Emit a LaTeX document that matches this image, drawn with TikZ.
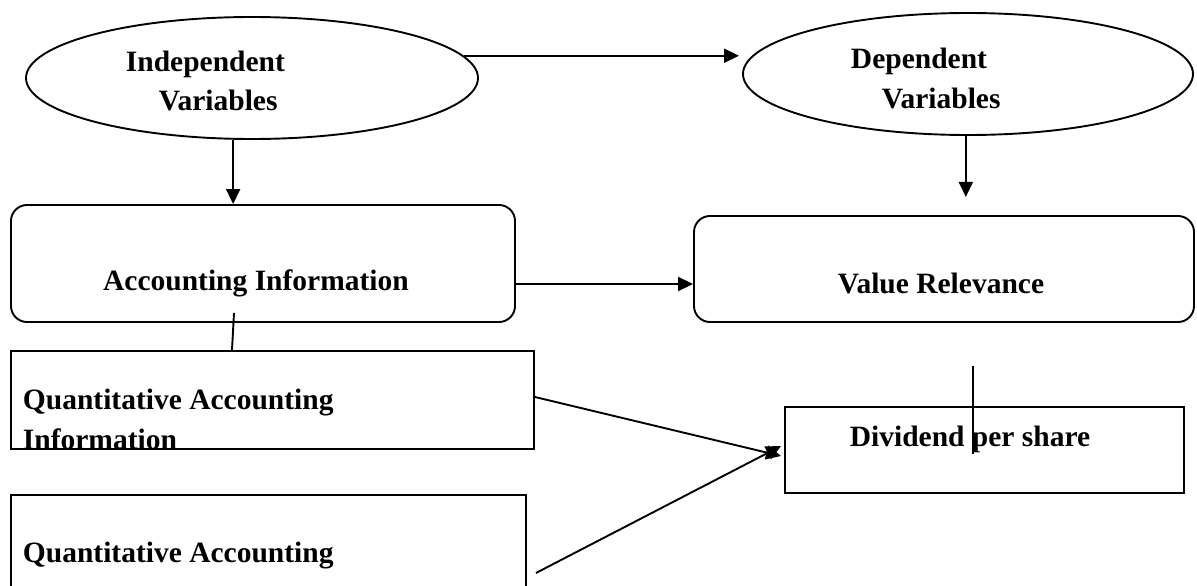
\documentclass[tikz,border=0pt]{standalone}
\usepackage{fontspec}
\setmainfont{Liberation Serif}
\usetikzlibrary{shapes.geometric,arrows.meta,calc}
\begin{document}
\begin{tikzpicture}[x=1pt,y=-1pt,line width=1.9pt,
  lbl/.style={font=\fontsize{29.5}{33}\selectfont\bfseries, inner sep=0pt},
  arr/.style={-{Triangle[length=15pt,width=14pt]}},
  ell/.style={draw, ellipse, inner sep=0pt},
  rbox/.style={draw, rounded corners=16pt, inner sep=0pt},
  sbox/.style={draw, inner sep=0pt}]
\useasboundingbox (0,0) rectangle (1197,586);
\clip (0,0) rectangle (1197,586);
% ellipses
\node[ell, minimum width=452pt, minimum height=122pt] (iv) at (252,78) {};
\node[ell, minimum width=450pt, minimum height=122pt] (dv) at (968,74) {};
\node[lbl, anchor=west] (ivt1) at (125,64) {Independent};
\node[lbl, anchor=west] (ivt2) at (158,100) {Variables};
\node[lbl, anchor=west] (dvt1) at (850,61) {Dependent};
\node[lbl, anchor=west] (dvt2) at (881,98) {Variables};
% rounded boxes
\node[rbox, minimum width=504pt, minimum height=117pt] (ai) at (263,263.5) {};
\node[lbl] (ait) at (256,283) {Accounting Information};
\node[rbox, minimum width=500pt, minimum height=106pt] (vr) at (944,269) {};
\node[lbl] (vrt) at (941,283) {Value Relevance};
% plain boxes
\node[sbox, minimum width=523pt, minimum height=98pt] (q1) at (272.5,400) {};
\node[lbl, anchor=west] (q1t1) at (22,403) {Quantitative Accounting};
\node[lbl, anchor=west] (q1t2) at (22,439) {Information};
\node[sbox, minimum width=515pt, minimum height=125pt] (q2) at (268.5,557.5) {};
\node[lbl, anchor=west] (q2t) at (22,556) {Quantitative Accounting};
\node[sbox, minimum width=399pt, minimum height=86pt] (dps) at (984.5,450) {};
\node[lbl] (dpst) at (970,439) {Dividend per share};
% connectors
\draw[arr] (iv.6.3) coordinate (t0) -- ([xshift=-3pt]t0 -| dv.west);
\draw[arr] (iv.253.4) -- (iv.253.4 |- ai.north);
\draw[arr] (dv.268) -- ++(0,61);
\draw[arr] ([yshift=-20.5pt]ai.east) coordinate (s1) -- (s1 -| vr.west);
\draw ([xshift=-29pt,yshift=10pt]ai.south) -- ([xshift=-40.5pt]q1.north);
\draw ($(vr.south)+(29,43)$) -- ($(dps.north)+(-11.5,48)$);
\draw[arr] ([yshift=3pt]q1.east) -- ([xshift=-3pt,yshift=-6pt]dps.west);
\draw[arr] ([xshift=9pt,yshift=-15.5pt]q2.east) -- ([xshift=-3pt,yshift=4pt]dps.west);
\end{tikzpicture}
\end{document}
